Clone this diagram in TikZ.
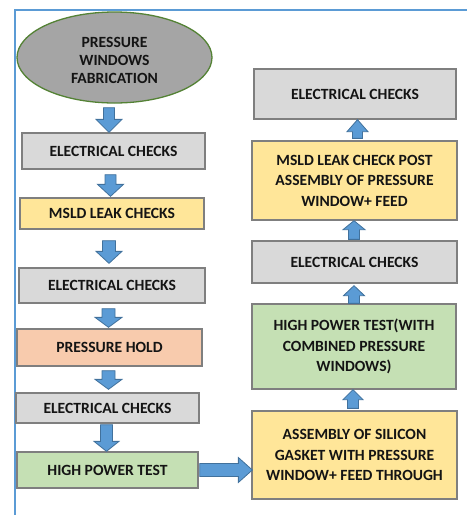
\documentclass[tikz,border=0pt]{standalone}
\usepackage{fontspec}
\setmainfont{Carlito}
\usetikzlibrary{calc,shapes.geometric}
\definecolor{framec}{HTML}{5B9BD5}
\definecolor{arrowfill}{HTML}{5B9BD5}
\definecolor{arrowline}{HTML}{41719C}
\definecolor{boxline}{HTML}{7F7F7F}
\definecolor{grayfill}{HTML}{D9D9D9}
\definecolor{yellowfill}{HTML}{FFE699}
\definecolor{salmonfill}{HTML}{F8CBAD}
\definecolor{greenfill}{HTML}{C5E0B4}
\definecolor{ellfill}{HTML}{A5A5A5}
\definecolor{ellline}{HTML}{548235}
\definecolor{txt}{HTML}{141414}
\newcommand\flowarrow[5]{%
  \coordinate (fS) at (#1);
  \coordinate (fE) at (#2);
  \coordinate (fH) at ($(fE)!#5!(fS)$);
  \draw[blockarrow] ($(fS)!#3!90:(fE)$) -- ($(fH)!#3!90:(fE)$) -- ($(fH)!#4!90:(fE)$) -- (fE)
    -- ($(fH)!#4!-90:(fE)$) -- ($(fH)!#3!-90:(fE)$) -- ($(fS)!#3!-90:(fE)$) -- cycle;}
\begin{document}
\begin{tikzpicture}[x=1pt,y=-1pt,
  box/.style={draw=boxline, line width=1.3pt, inner sep=0pt, align=center, text=txt,
    font=\fontsize{15.6}{20.5}\selectfont\bfseries},
  ecbox/.style={box, fill=grayfill},
  yelbox/.style={box, fill=yellowfill},
  salbox/.style={box, fill=salmonfill},
  grnbox/.style={box, fill=greenfill},
  startell/.style={ellipse, draw=ellline, line width=1.3pt, fill=ellfill, inner sep=0pt,
    align=center, text=txt, font=\fontsize{15.6}{18}\selectfont\bfseries},
  blockarrow/.style={fill=arrowfill, draw=arrowline, line width=0.8pt, line join=miter},
  framel/.style={draw=framec, line width=2.2pt}]
\useasboundingbox (0,0) rectangle (467,515);
\draw[framel] (15,515) -- (15,10) -- (467,10);
% left column
\node[startell, minimum width=195pt, minimum height=91pt] (ell) at (114.5,57.5) {\raisebox{-3pt}[\height][\depth]{\parbox{100pt}{\centering PRESSURE\\WINDOWS\\FABRICATION}}};
\node[ecbox, minimum width=183pt, minimum height=36pt] (ec1) at (113.5,151) {ELECTRICAL CHECKS};
\node[yelbox, minimum width=184pt, minimum height=31pt] (msld) at (112,213.5) {MSLD LEAK CHECKS};
\node[ecbox, minimum width=186pt, minimum height=35pt] (ec2) at (112,285.5) {ELECTRICAL CHECKS};
\node[salbox, minimum width=185pt, minimum height=37pt] (ph) at (109.5,347.5) {PRESSURE HOLD};
\node[ecbox, minimum width=183pt, minimum height=30pt] (ec3) at (107.5,408) {ELECTRICAL CHECKS};
\node[grnbox, minimum width=181pt, minimum height=36pt] (hpt) at (107.5,470) {HIGH POWER TEST};
% right column
\node[yelbox, minimum width=205pt, minimum height=88pt] (asm) at (354.5,455) {ASSEMBLY OF SILICON\\GASKET WITH PRESSURE\\WINDOW+ FEED THROUGH};
\node[grnbox, minimum width=204pt, minimum height=85pt] (hpw) at (354,346.5) {HIGH POWER TEST(WITH\\COMBINED PRESSURE\\WINDOWS)};
\node[ecbox, minimum width=205pt, minimum height=42pt] (ecr2) at (354.5,262) {ELECTRICAL CHECKS};
\node[yelbox, minimum width=205pt, minimum height=79pt] (msp) at (354.5,180.5) {MSLD LEAK CHECK POST\\ASSEMBLY OF PRESSURE\\WINDOW+ FEED};
\node[ecbox, minimum width=202pt, minimum height=50pt] (ecr1) at (355,94) {ELECTRICAL CHECKS};
% arrows
\flowarrow{$(ec1.north |- ell.south)+(-4.5,4)$}{$(ec1.north)+(-4.5,0)$}{5.5pt}{13pt}{13pt}
\flowarrow{$(msld.north |- ec1.south)+(-1.5,5)$}{$(msld.north)+(-1.5,-1)$}{5.5pt}{13pt}{12pt}
\flowarrow{$(ec2.north |- msld.south)+(-3,11)$}{$(ec2.north)+(-3,-4)$}{6.5pt}{13pt}{12pt}
\flowarrow{$(ph.north |- ec2.south)+(-1,5)$}{$(ph.north)+(-1,-1)$}{6.5pt}{13.5pt}{10pt}
\flowarrow{$(ec3.north |- ph.south)+(1,4)$}{$(ec3.north)+(1,-3)$}{6.5pt}{13.5pt}{10pt}
\flowarrow{$(hpt.north |- ec3.south)+(-1,1)$}{$(hpt.north)+(-1,0)$}{6pt}{12.5pt}{10pt}
\flowarrow{$(hpt.east)+(1,0)$}{$(asm.west |- hpt.east)+(1,0)$}{6.5pt}{12.5pt}{14pt}
\flowarrow{$(hpw.south |- asm.north)+(-1,-2)$}{$(hpw.south)+(-1,0)$}{5.5pt}{10pt}{10pt}
\flowarrow{$(ecr2.south |- hpw.north)+(-0.5,0)$}{$(ecr2.south)+(-0.5,2)$}{5.5pt}{10.5pt}{10pt}
\flowarrow{$(msp.south |- ecr2.north)+(-0.5,-1)$}{$(msp.south)+(-0.5,0)$}{5.5pt}{11pt}{9pt}
\flowarrow{$(ecr1.south |- msp.north)+(2.5,-2)$}{$(ecr1.south)+(2.5,0)$}{5pt}{10.5pt}{12pt}
\end{tikzpicture}
\end{document}
